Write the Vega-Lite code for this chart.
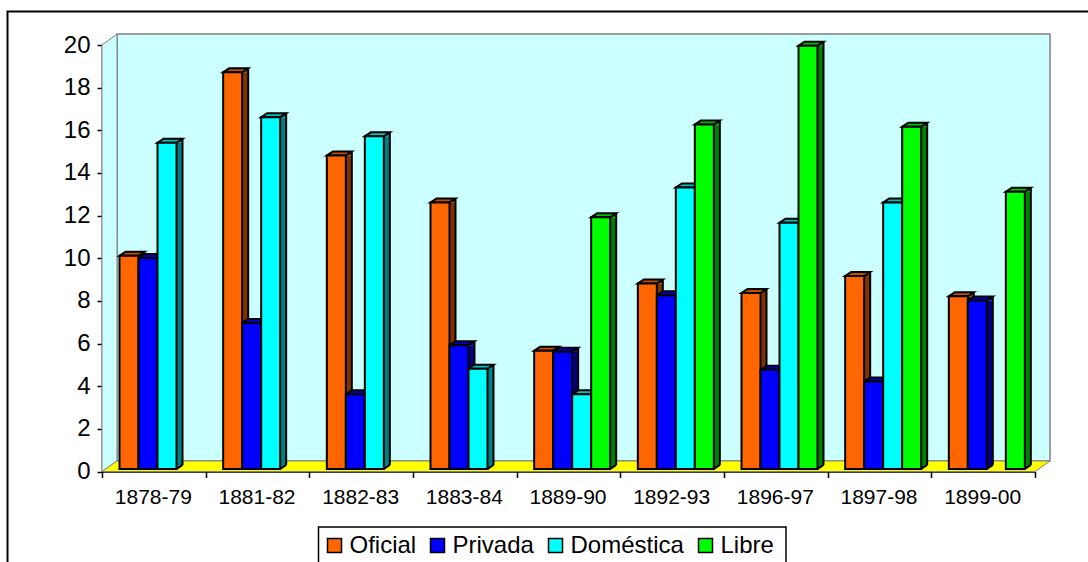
{
"$schema":"https://vega.github.io/schema/vega-lite/v6.json",
"width":933,"height":426.5,
"autosize":{"type":"none"},
"padding":{"left":102,"top":45,"right":53,"bottom":90.5},
"background":"white",
"view":{"stroke":null,"fill":null},
"config":{"font":"Liberation Sans",
 "axisX":{"tickBand":"extent","labelAngle":0,"labelFontSize":21,"labelOffset":-1,"labelColor":"#000000","labelPadding":9,"tickSize":6,"tickColor":"#000000","tickWidth":1.5,"domainColor":"#000000","domainWidth":1.5,"grid":false,"zindex":1,"labelFont":"Liberation Sans","labelLimit":200},
 "axisY":{"tickCount":11,"labelFontSize":24,"labelColor":"#000000","labelPadding":7,"tickSize":5,"tickColor":"#000000","tickWidth":1.5,"domainColor":"#000000","domainWidth":1.5,"grid":false,"zindex":1,"labelFont":"Liberation Sans"}},
"data":{"values":[
{"period":"1878-79","series":"Oficial","value":10.0},{"period":"1878-79","series":"Privada","value":9.9},{"period":"1878-79","series":"Doméstica","value":15.3},
{"period":"1881-82","series":"Oficial","value":18.6},{"period":"1881-82","series":"Privada","value":6.85},{"period":"1881-82","series":"Doméstica","value":16.5},
{"period":"1882-83","series":"Oficial","value":14.7},{"period":"1882-83","series":"Privada","value":3.5},{"period":"1882-83","series":"Doméstica","value":15.6},
{"period":"1883-84","series":"Oficial","value":12.5},{"period":"1883-84","series":"Privada","value":5.8},{"period":"1883-84","series":"Doméstica","value":4.7},
{"period":"1889-90","series":"Oficial","value":5.55},{"period":"1889-90","series":"Privada","value":5.5},{"period":"1889-90","series":"Doméstica","value":3.5},{"period":"1889-90","series":"Libre","value":11.8},
{"period":"1892-93","series":"Oficial","value":8.7},{"period":"1892-93","series":"Privada","value":8.15},{"period":"1892-93","series":"Doméstica","value":13.2},{"period":"1892-93","series":"Libre","value":16.15},
{"period":"1896-97","series":"Oficial","value":8.25},{"period":"1896-97","series":"Privada","value":4.65},{"period":"1896-97","series":"Doméstica","value":11.55},{"period":"1896-97","series":"Libre","value":19.85},
{"period":"1897-98","series":"Oficial","value":9.05},{"period":"1897-98","series":"Privada","value":4.1},{"period":"1897-98","series":"Doméstica","value":12.5},{"period":"1897-98","series":"Libre","value":16.05},
{"period":"1899-00","series":"Oficial","value":8.1},{"period":"1899-00","series":"Privada","value":7.9},{"period":"1899-00","series":"Libre","value":13.0}
]},
"resolve":{"scale":{"color":"independent","xOffset":"independent"}},
"layer":[
{"data":{"values":[{"part":"frame"}]},
 "mark":{"type":"point","filled":false,"opacity":1,"size":4,"stroke":"#000000","strokeWidth":2,"shape":"M-94.5 100 L-94.5 -460 L1000 -460","clip":false},
 "encoding":{"x":{"datum":"1878-79","type":"nominal","bandPosition":0,"title":null,"scale":{"domain":["1878-79","1881-82","1882-83","1883-84","1889-90","1892-93","1896-97","1897-98","1899-00"],"paddingInner":0,"paddingOuter":0}},
 "y":{"datum":0,"type":"quantitative","title":null,"scale":{"domain":[0,20],"nice":false}}}},
{"data":{"values":[{"part":"back wall"}]},
 "mark":{"type":"point","filled":true,"opacity":1,"size":4,"fill":"#ccffff","stroke":"#808080","strokeWidth":1.5,"shape":"M15 -10.5 L948 -10.5 L948 -437.5 L15 -437.5 Z"},
 "encoding":{"x":{"datum":"1878-79","type":"nominal","bandPosition":0,"title":null},"y":{"datum":0,"type":"quantitative","title":null}}},
{"data":{"values":[{"part":"side wall"}]},
 "mark":{"type":"point","filled":true,"opacity":1,"size":4,"fill":"#ccffff","stroke":"#808080","strokeWidth":1,"shape":"M0 0 L15 -10.5 L15 -437.5 L0 -426.5 Z"},
 "encoding":{"x":{"datum":"1878-79","type":"nominal","bandPosition":0,"title":null},"y":{"datum":0,"type":"quantitative","title":null}}},
{"data":{"values":[{"part":"floor"}]},
 "mark":{"type":"point","filled":true,"opacity":1,"size":4,"fill":"#ffff00","stroke":"#808080","strokeWidth":1,"shape":"M0 0 L933 0 L948 -10.5 L15 -10.5 Z"},
 "encoding":{"x":{"datum":"1878-79","type":"nominal","bandPosition":0,"title":null},"y":{"datum":0,"type":"quantitative","title":null}}},
{"data":{"values":[{"part":"legend box"}]},
 "mark":{"type":"point","filled":false,"opacity":1,"size":4,"stroke":"#000000","strokeWidth":1.5,"shape":"M216.5 100 L216.5 55.5 L684 55.5 L684 100"},
 "encoding":{"x":{"datum":"1878-79","type":"nominal","bandPosition":0,"title":null},"y":{"datum":0,"type":"quantitative","title":null}}},
{"mark":{"type":"rule","strokeWidth":6,"yOffset":-2.5,"y2Offset":-6.5},
 "encoding":{"x":{"field":"period","type":"nominal","title":null},
 "xOffset":{"field":"series","type":"nominal","scale":{"domain":["Oficial","Privada","Doméstica","Libre"],"range":[30,106]}},
 "y":{"field":"value","type":"quantitative","title":null,"stack":null},"y2":{"datum":0},
 "color":{"field":"series","type":"nominal","legend":null,"scale":{"domain":["Oficial","Privada","Doméstica","Libre"],"range":["#803300","#000080","#008080","#008000"]}}}},
{"mark":{"type":"point","filled":true,"opacity":1,"size":4,"yOffset":-2.5,"strokeWidth":0,"shape":"M9.5 0 L15.5 -4 L15.5 0 Z"},
 "encoding":{"x":{"field":"period","type":"nominal","title":null},
 "xOffset":{"field":"series","type":"nominal","scale":{"domain":["Oficial","Privada","Doméstica","Libre"],"range":[17.5,93.5]}},
 "y":{"field":"value","type":"quantitative","title":null,"stack":null},
 "color":{"field":"series","type":"nominal","legend":null,"scale":{"domain":["Oficial","Privada","Doméstica","Libre"],"range":["#803300","#000080","#008080","#008000"]}}}},
{"mark":{"type":"point","filled":true,"opacity":1,"size":4,"yOffset":-2.5,"strokeWidth":0,"shape":"M9.5 0 L15.5 -4 L9.5 -4 Z"},
 "encoding":{"x":{"field":"period","type":"nominal","title":null},
 "xOffset":{"field":"series","type":"nominal","scale":{"domain":["Oficial","Privada","Doméstica","Libre"],"range":[17.5,93.5]}},
 "y":{"datum":0,"type":"quantitative","title":null},
 "color":{"field":"series","type":"nominal","legend":null,"scale":{"domain":["Oficial","Privada","Doméstica","Libre"],"range":["#803300","#000080","#008080","#008000"]}}}},
{"mark":{"type":"rule","color":"#000000","strokeWidth":2,"yOffset":-6.5,"y2Offset":-6.5},
 "encoding":{"x":{"field":"period","type":"nominal","title":null},
 "xOffset":{"field":"series","type":"nominal","scale":{"domain":["Oficial","Privada","Doméstica","Libre"],"range":[33,109]}},
 "y":{"field":"value","type":"quantitative","title":null,"stack":null},"y2":{"datum":0}}},
{"mark":{"type":"point","filled":false,"opacity":1,"size":4,"yOffset":-2.5,"stroke":"#000000","strokeWidth":2,"shape":"M9.5 0 L15.5 -4"},
 "encoding":{"x":{"field":"period","type":"nominal","title":null},
 "xOffset":{"field":"series","type":"nominal","scale":{"domain":["Oficial","Privada","Doméstica","Libre"],"range":[17.5,93.5]}},
 "y":{"datum":0,"type":"quantitative","title":null}}},
{"mark":{"type":"point","filled":true,"opacity":1,"size":4,"yOffset":-2.5,"stroke":"#000000","strokeWidth":2,"shape":"M-9.5 0 L9.5 0 L15.5 -4 L-3.5 -4 Z"},
 "encoding":{"x":{"field":"period","type":"nominal","title":null},
 "xOffset":{"field":"series","type":"nominal","scale":{"domain":["Oficial","Privada","Doméstica","Libre"],"range":[17.5,93.5]}},
 "y":{"field":"value","type":"quantitative","title":null,"stack":null},
 "fill":{"field":"series","type":"nominal","legend":null,"scale":{"domain":["Oficial","Privada","Doméstica","Libre"],"range":["#c04d00","#0000bf","#00bfbf","#00bf00"]}}}},
{"mark":{"type":"bar","yOffset":-2.5,"y2Offset":-2.5,"stroke":"#000000","strokeWidth":2},
 "encoding":{"x":{"field":"period","type":"nominal","title":null},
 "xOffset":{"field":"series","type":"nominal","scale":{"domain":["Oficial","Privada","Doméstica","Libre"],"range":[17.5,93.5]}},
 "y":{"field":"value","type":"quantitative","stack":null,"title":null},
 "y2":{"datum":0},
 "color":{"field":"series","type":"nominal","scale":{"domain":["Oficial","Privada","Doméstica","Libre"],"range":["#ff6600","#0000ff","#00ffff","#00ff00"]},
  "legend":{"title":null,"orient":"none","legendX":216.5,"legendY":484.5,"direction":"horizontal","columns":4,"symbolType":"square","symbolSize":196,"symbolStrokeColor":"#000000","symbolStrokeWidth":1.5,"labelFontSize":24,"labelColor":"#000000","labelFont":"Liberation Sans","labelOffset":3,"columnPadding":9,"padding":4,"labelLimit":200}}}}
]
}
